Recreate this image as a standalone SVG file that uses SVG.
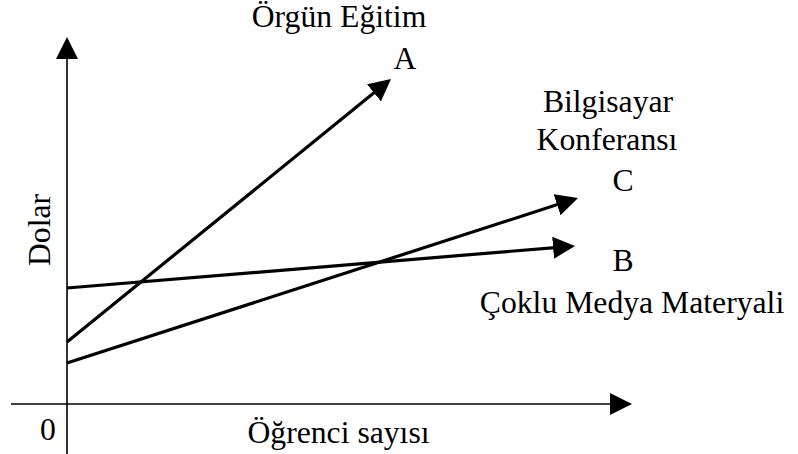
<svg xmlns="http://www.w3.org/2000/svg" width="798" height="454" viewBox="0 0 798 454">
<style>
text{font-family:"Liberation Serif","Times New Roman",Times,serif;font-size:31.7px;fill:#000}
.ax{stroke:#000;stroke-width:1.6;fill:none}
.ln{stroke:#000;stroke-width:3.2;fill:none}
</style>
<defs>
<marker id="ah" markerUnits="userSpaceOnUse" markerWidth="24" markerHeight="24" refX="2" refY="11" orient="auto" viewBox="0 0 24 24">
<path d="M0,0 L22,11 L0,22 z" fill="#000"/>
</marker>
</defs>
<rect width="798" height="454" fill="#fff"/>
<g id="axes">
<line class="ax" x1="67" y1="454" x2="67" y2="57" marker-end="url(#ah)"/>
<line class="ax" x1="11" y1="404" x2="612" y2="404" marker-end="url(#ah)"/>
</g>
<g id="connectors">
<line class="ln" x1="67" y1="342" x2="375.5" y2="91.6" marker-end="url(#ah)"/>
<line class="ln" x1="67" y1="288" x2="555.1" y2="247.6" marker-end="url(#ah)"/>
<line class="ln" x1="67" y1="363" x2="559" y2="204.1" marker-end="url(#ah)"/>
</g>
<g id="labelA">
<text x="339" y="27" text-anchor="middle">Örgün Eğitim</text>
<text x="405" y="69" text-anchor="middle">A</text>
</g>
<g id="labelC">
<text x="608" y="112" text-anchor="middle">Bilgisayar</text>
<text x="607" y="150" text-anchor="middle">Konferansı</text>
<text x="623" y="191" text-anchor="middle">C</text>
</g>
<g id="labelB">
<text x="623" y="271" text-anchor="middle">B</text>
<text x="632" y="313" text-anchor="middle">Çoklu Medya Materyali</text>
</g>
<g id="axisLabels">
<text x="48" y="440" text-anchor="middle">0</text>
<text x="338.5" y="443" text-anchor="middle">Öğrenci sayısı</text>
<text transform="translate(50,230) rotate(-90)" text-anchor="middle">Dolar</text>
</g>
</svg>
